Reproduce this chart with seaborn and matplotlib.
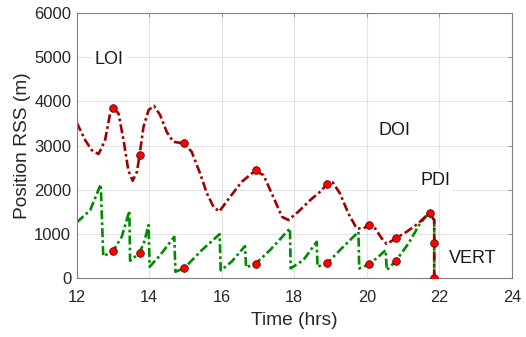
import numpy as np
import pandas as pd
import matplotlib
matplotlib.use("Agg")
import matplotlib.pyplot as plt
import seaborn as sns

# Position RSS of the upper stage (dark red) and the lower stage (green)
red_t = [12.00, 12.23, 12.41, 12.60, 12.78, 12.92, 12.99, 13.15, 13.29, 13.42,
         13.54, 13.66, 13.73, 13.84, 13.98, 14.13, 14.30, 14.48, 14.66, 14.96,
         15.17, 15.40, 15.59, 15.77, 15.93, 16.23, 16.55, 16.92, 17.15, 17.42,
         17.66, 17.84, 18.11, 18.44, 18.71, 18.90, 19.06, 19.26, 19.49, 19.72,
         19.91, 20.06, 20.23, 20.41, 20.55, 20.80, 21.10, 21.42, 21.72, 21.86,
         21.86]
red_v = [3515, 3124, 2898, 2808, 3124, 3727, 3862, 3727, 3124, 2446,
         2205, 2408, 2778, 3424, 3802, 3899, 3689, 3312, 3086, 3049,
         2860, 2372, 1920, 1617, 1510, 1843, 2182, 2431, 2333, 1843,
         1391, 1317, 1505, 1769, 1956, 2123, 2168, 1920, 1468, 1129,
         1129, 1204, 1129, 904, 775, 904, 1053, 1242, 1480, 1317,
         0]

green_t = [12.00, 12.37, 12.66, 12.73, 12.99, 13.24, 13.45, 13.47, 13.73, 13.86,
           13.98, 14.01, 14.30, 14.69, 14.72, 14.96, 15.45, 15.94, 15.97, 16.27,
           16.64, 16.67, 16.94, 17.33, 17.88, 17.90, 18.25, 18.62, 18.64, 18.90,
           19.26, 19.77, 19.79, 20.06, 20.32, 20.52, 20.55, 20.80, 21.15, 21.47,
           21.72, 21.86, 21.86]
green_v = [1265, 1543, 2123, 504, 601, 940, 1527, 398, 572, 827,
           1204, 262, 526, 940, 149, 226, 639, 1000, 180, 376,
           730, 248, 338, 639, 1129, 226, 413, 827, 262, 338,
           639, 1053, 226, 316, 488, 639, 187, 391, 790, 1242,
           1480, 1317, 0]

# Event markers on each trajectory
red_mark_t = [12.99, 13.73, 14.96, 16.93, 18.90, 20.06, 20.80, 21.73, 21.86, 21.86]
red_mark_v = [3850, 2780, 3050, 2440, 2123, 1200, 910, 1480, 804, 0]
green_mark_t = [12.99, 13.73, 14.96, 16.93, 18.90, 20.06, 20.80]
green_mark_v = [610, 575, 235, 335, 350, 316, 385]

# Phase labels
phase_names = ["LOI", "DOI", "PDI", "VERT"]

x_ticks = [12, 14, 16, 18, 20, 22, 24]
y_ticks = [0, 1000, 2000, 3000, 4000, 5000, 6000]

sns.set_style("white")
plt.rcParams["font.family"] = ["Liberation Sans", "DejaVu Sans"]

fig = plt.figure(figsize=(5.26, 3.37), dpi=100)
ax = fig.add_axes([0.146, 0.174, 0.827, 0.788])

red_col = "#a00000"
green_col = "#008a00"
dashdot = (0, (3.4, 1.2, 1.0, 1.2))

red_df = pd.DataFrame({"t": red_t, "v": red_v})
green_df = pd.DataFrame({"t": green_t, "v": green_v})

sns.lineplot(data=green_df, x="t", y="v", sort=False, estimator=None, ax=ax,
             color=green_col, linewidth=1.9, linestyle=dashdot)
sns.lineplot(data=red_df, x="t", y="v", sort=False, estimator=None, ax=ax,
             color=red_col, linewidth=1.9, linestyle=dashdot)

sns.scatterplot(x=green_mark_t, y=green_mark_v, ax=ax, color="#ff0000",
                edgecolor="#600000", linewidth=0.6, s=30, zorder=5)
sns.scatterplot(x=red_mark_t, y=red_mark_v, ax=ax, color="#ff0000",
                edgecolor="#600000", linewidth=0.6, s=30, zorder=5)

label_pos = [(12.9, 4950), (20.77, 3350), (21.9, 2220), (22.92, 460)]
for name, (tx, ty) in zip(phase_names, label_pos):
    ax.text(tx, ty, name, ha="center", va="center", fontsize=13, color="#1a1a1a",
            bbox=dict(facecolor="white", edgecolor="none", pad=2), zorder=4)

ax.set_xlim(12, 24)
ax.set_ylim(0, 6000)
ax.set_xticks(x_ticks)
ax.set_yticks(y_ticks)
ax.grid(True, color="#e3e3e3", linewidth=0.8)
ax.set_axisbelow(True)
for sp in ax.spines.values():
    sp.set_color("#808080")
    sp.set_linewidth(0.8)
ax.tick_params(direction="in", top=True, right=True, length=3, width=0.6,
               color="#808080", labelcolor="#262626")
ax.tick_params(axis="x", labelsize=11.7, pad=8.5)
ax.tick_params(axis="y", labelsize=12, pad=4)
ax.set_xlabel("Time (hrs)", fontsize=13.8, color="#262626", labelpad=5)
ax.set_ylabel("Position RSS (m)", fontsize=13.8, color="#262626", labelpad=2)

fig.savefig("out.png", dpi=100)
